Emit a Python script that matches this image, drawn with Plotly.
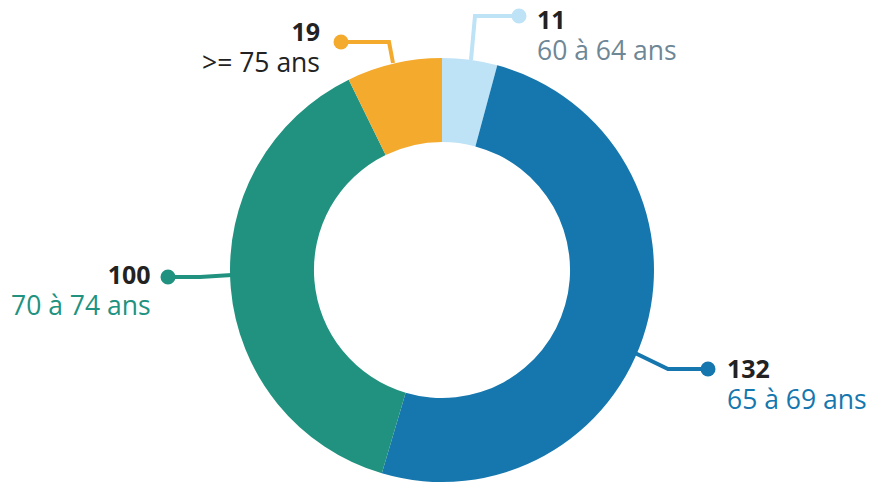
import plotly.graph_objects as go

# ---- data ----
categories = ["60 à 64 ans", "65 à 69 ans", "70 à 74 ans", ">= 75 ans"]
values = [11, 132, 100, 19]
colors = ["#BEE2F6", "#1577AE", "#20927F", "#F4AA2D"]
label_colors = ["#6E8796", "#1577AE", "#20927F", "#222222"]

W, H = 882, 485
CX, CY, R = 442, 270, 212

# connector geometry (pixels): anchor on ring, elbow, dot
connectors = [
    [(471, 60), (475, 16), (519, 16)],
    [(635, 353), (668, 369), (708, 369)],
    [(232, 275), (200, 277), (168, 277)],
    [(393, 63), (389, 42), (341, 42)],
]
# label geometry: (x, anchor, y_center of two-line block)
label_pos = [
    (535, "left", 35),
    (725, "left", 384),
    (153, "right", 290),
    (322, "right", 47),
]

def px(x):
    return x / W

def py(y):
    return 1 - y / H

fig = go.Figure()
fig.add_trace(go.Pie(
    labels=categories,
    values=values,
    marker=dict(colors=colors, line=dict(width=0)),
    hole=0.604,
    sort=False,
    direction="clockwise",
    rotation=0,
    textinfo="none",
    hoverinfo="label+value",
    showlegend=False,
    domain=dict(x=[px(CX - R), px(CX + R)], y=[py(CY + R), py(CY - R)]),
))

shapes = []
annotations = []
for i, cat in enumerate(categories):
    pts = connectors[i]
    path = "M " + " L ".join(f"{px(x)},{py(y)}" for x, y in pts)
    shapes.append(dict(type="path", path=path, xref="paper", yref="paper",
                       line=dict(color=colors[i], width=4)))
    dx, dy = pts[-1]
    shapes.append(dict(type="circle", xref="paper", yref="paper",
                       x0=px(dx - 7.5), x1=px(dx + 7.5), y0=py(dy + 7.5), y1=py(dy - 7.5),
                       fillcolor=colors[i], line=dict(width=0)))
    lx, anc, yb = label_pos[i]
    text = (f"<b><span style='font-size:25px;color:#222222'>{values[i]}</span></b>"
            f"<br><span style='font-size:26.5px'>{cat}</span>")
    annotations.append(dict(x=px(lx), y=py(yb), xref="paper", yref="paper",
                            text=text, showarrow=False, align=anc,
                            xanchor=anc, yanchor="middle",
                            font=dict(family="Open Sans", size=24, color=label_colors[i])))

fig.update_layout(
    width=W, height=H,
    margin=dict(l=0, r=0, t=0, b=0),
    paper_bgcolor="white", plot_bgcolor="white",
    shapes=shapes, annotations=annotations,
)
fig.write_html("out.html", config={"displayModeBar": False},
               post_script="document.body.style.margin='0';")
